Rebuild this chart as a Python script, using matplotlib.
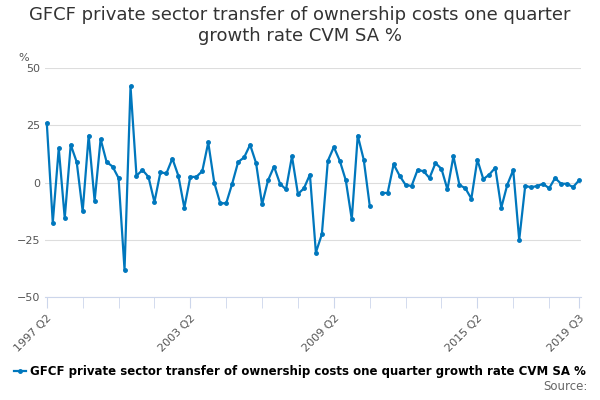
import matplotlib.pyplot as plt
import numpy as np

# Квартальные значения, 1997 Q2 .. 2019 Q3
values = [26, -17.5, 15, -15.5, 16.5, 9, -12.5, 20.5, -8, 19,
          9, 7, 2, -38, 42, 3, 5.5, 2.5, -8.5, 4.5,
          4, 10.5, 3, -11, 2.5, 2.5, 5, 17.5, 0, -9,
          -9, -0.5, 9, 11, 16.5, 8.5, -9.5, 1, 7, -0.5,
          -3, 11.5, -5, -2.5, 3.5, -30.5, -22.5, 9.5, 15.5, 9.5,
          1, -16, 20.5, 10, -10, np.nan, -4.5, -4.5, 8, 3,
          -1, -1.5, 5.5, 5, 2, 8.5, 6, -3, 11.5, -1,
          -2.5, -7, 10, 1.5, 3.5, 6.5, -11, -1, 5.5, -25,
          -1.5, -2, -1.5, -0.5, -2.5, 2, -0.5, -0.5, -2, 1]
tick_labels = ['1997 Q2', '2003 Q2', '2009 Q2', '2015 Q2', '2019 Q3']
tick_pos = [0, 24, 48, 72, 89]

x = np.arange(len(values))
color = '#0077bd'

fig = plt.figure(figsize=(6, 4), dpi=100)
ax = fig.add_axes([0.075, 0.257, 0.893, 0.573])
ax.plot(x, values, color=color, lw=1.6, marker='o', ms=2.5)
ax.set_xlim(-0.3, 89.3)
ax.set_ylim(-50, 50)
ax.set_yticks([-50, -25, 0, 25, 50])
ax.grid(axis='y', color='#dddddd', lw=0.8)
ax.set_axisbelow(True)
for s in ['top', 'right', 'left']:
    ax.spines[s].set_visible(False)
ax.spines['bottom'].set_color('#ccd6eb')
ax.tick_params(axis='y', length=0, labelsize=8, colors='#555555')
ax.set_xticks(list(range(0, 89, 6)) + [89], minor=True)
ax.set_xticks(tick_pos)
ax.set_xticklabels(tick_labels, rotation=45, ha='right', rotation_mode='anchor',
                   fontsize=8, color='#555555')
ax.tick_params(axis='x', which='both', length=8, color='#ccd6eb')
ax.text(-0.05, 1.03, '%', transform=ax.transAxes, fontsize=8, color='#555555')

fig.suptitle('GFCF private sector transfer of ownership costs one quarter\ngrowth rate CVM SA %',
             y=0.985, fontsize=13, color='#333333')
fig.legend(handles=[plt.Line2D([], [], color=color, lw=1.6, marker='o', ms=2.5)],
           labels=['GFCF private sector transfer of ownership costs one quarter growth rate CVM SA %'],
           loc='center', bbox_to_anchor=(0.5, 0.07), frameon=False, handlelength=1,
           handletextpad=0.3, prop={'weight': 'bold', 'size': 8.5})
fig.text(0.98, 0.025, 'Source:', ha='right', fontsize=8.5, color='#666666')
fig.savefig('out.png')
